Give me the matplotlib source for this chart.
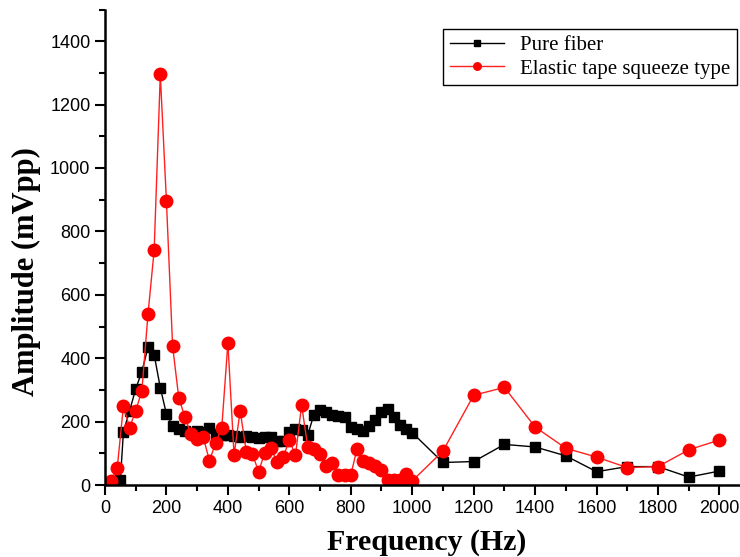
import numpy as np
import matplotlib
matplotlib.use("Agg")
import matplotlib.pyplot as plt
from matplotlib.ticker import MultipleLocator

# data
pure_f = [50, 60, 80, 100, 120, 140, 160, 180, 200, 220, 240, 260, 280, 300,
          320, 340, 360, 380, 400, 420, 440, 460, 480, 500, 520, 540, 560, 580,
          600, 620, 640, 660, 680, 700, 720, 740, 760, 780, 800, 820, 840, 860,
          880, 900, 920, 940, 960, 980, 1000,
          1100, 1200, 1300, 1400, 1500, 1600, 1700, 1800, 1900, 2000]
pure_amp = [15, 168, 234, 303, 358, 434, 411, 307, 224, 186, 176, 170, 164, 170,
            168, 181, 162, 157, 158, 155, 152, 155, 150, 148, 152, 152, 140, 140,
            168, 176, 172, 158, 222, 238, 230, 222, 218, 213, 183, 176, 171, 186,
            204, 231, 239, 213, 189, 176, 165,
            71, 74, 128, 120, 92, 42, 58, 58, 25, 44]

tape_f = [20, 40, 60, 80, 100, 120, 140, 160, 180, 200, 220, 240, 260, 280,
          300, 320, 340, 360, 380, 400, 420, 440, 460, 480, 500, 520, 540, 560,
          580, 600, 620, 640, 660, 680, 700, 720, 740, 760, 780, 800, 820, 840,
          860, 880, 900, 920, 940, 960, 980, 1000,
          1100, 1200, 1300, 1400, 1500, 1600, 1700, 1800, 1900, 2000]
tape_amp = [13, 55, 250, 181, 234, 297, 540, 740, 1295, 895, 439, 276, 215, 160,
            146, 150, 77, 132, 180, 448, 95, 234, 105, 97, 42, 102, 118, 71,
            88, 141, 94, 252, 120, 113, 97, 60, 70, 32, 31, 31, 113, 76,
            68, 60, 48, 16, 16, 16, 35, 13,
            107, 283, 308, 183, 116, 88, 55, 58, 111, 142]

fig = plt.figure(figsize=(7.4, 5.57), dpi=100)
ax = fig.add_axes([105/740, 72/557, 1 - 105/740, (485 - 9.5)/557])

ax.plot(pure_f, pure_amp, color="black", lw=1, marker="s", ms=7.5,
        label="Pure fiber")
ax.plot(tape_f, tape_amp, color="#ff2020", lw=1, marker="o", ms=9,
        markerfacecolor="red", markeredgecolor="red", label="Elastic tape squeeze type")

ax.set_xlim(0, 2067)
ax.set_ylim(0, 1500)
ax.xaxis.set_major_locator(MultipleLocator(200))
ax.xaxis.set_minor_locator(MultipleLocator(100))
ax.yaxis.set_major_locator(MultipleLocator(200))
ax.yaxis.set_minor_locator(MultipleLocator(100))
ax.set_yticks(range(0, 1401, 200))

for s in ["top", "right"]:
    ax.spines[s].set_visible(False)
for s in ["left", "bottom"]:
    ax.spines[s].set_linewidth(1.8)

ax.tick_params(which="major", direction="out", length=7, width=1.5,
               labelsize=13)
ax.tick_params(which="minor", direction="out", length=4, width=1.5)
for lab in ax.get_xticklabels() + ax.get_yticklabels():
    lab.set_family("Liberation Sans")

fig.text(427/740, 1 - 543/557, "Frequency (Hz)", family="Liberation Serif",
         fontweight="bold", fontsize=21.5, ha="center", va="center")
fig.text(26/740, 1 - 272/557, "Amplitude (mVpp)", family="Liberation Serif",
         fontweight="bold", fontsize=22, ha="center", va="center", rotation=90)

leg = ax.legend(loc="upper right", bbox_to_anchor=(737/740, 1 - 29/557),
                bbox_transform=fig.transFigure, fancybox=False, edgecolor="black",
                framealpha=1, markerscale=0.6, handlelength=2.6,
                prop={"family": "Liberation Serif", "size": 15},
                borderaxespad=0, borderpad=0.3, labelspacing=0.2)
leg.get_frame().set_linewidth(1)

fig.savefig("out.png", dpi=100)
